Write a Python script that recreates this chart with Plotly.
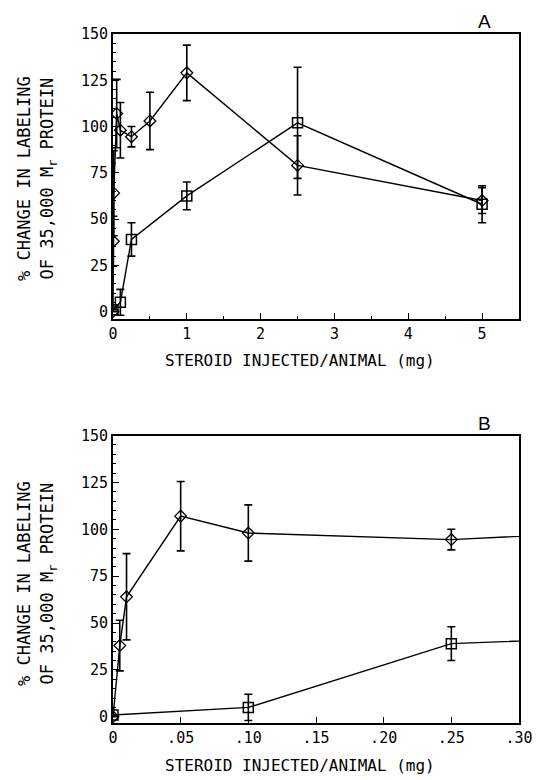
import plotly.graph_objects as go

# Diamond series (open diamonds)
dia_x = [0, 0.005, 0.01, 0.05, 0.1, 0.25, 0.5, 1, 2.5, 5]
dia_y = [0, 38, 64, 107, 98, 94.5, 103, 129, 79, 60]
dia_err = [0, 13.5, 23, 18.5, 15, 5.5, 15.5, 15, 16, 7]

# Square series (open squares)
sq_x = [0, 0.1, 0.25, 1, 2.5, 5]
sq_y = [1, 5, 39, 62.5, 102, 58]
sq_err = [0, 7, 9, 7.5, 30, 10]

y_ticks = [0, 25, 50, 75, 100, 125, 150]
y_ticktext = ["0", "25", "50", "75", "100", "125", "150"]
xa_ticks = [0, 1, 2, 3, 4, 5]
xa_ticktext = ["0", "1", "2", "3", "4", "5"]
xb_ticks = [0, 0.05, 0.10, 0.15, 0.20, 0.25, 0.30]
xb_ticktext = ["0", ".05", ".10", ".15", ".20", ".25", ".30"]

x_title = "STEROID INJECTED/ANIMAL (mg)"
y_title1 = "% CHANGE IN LABELING"
y_title2 = "OF 35,000 M<sub>r</sub> PROTEIN"

FONT = "DejaVu Sans Mono, Liberation Mono, monospace"
W, H = 545, 780
ML, MR, MT, MB = 113, 17, 34, 57
PH = H - MT - MB


def ydom(top_px, bot_px):
    return [(H - MB - bot_px) / PH, (H - MB - top_px) / PH]


fig = go.Figure()

for xa, ya in (("x", "y"), ("x2", "y2")):
    fig.add_trace(go.Scatter(
        x=dia_x, y=dia_y, xaxis=xa, yaxis=ya, mode="lines+markers",
        line=dict(color="black", width=1.4),
        marker=dict(symbol="diamond-open", size=9, color="black", line=dict(width=1.3)),
        error_y=dict(type="data", array=dia_err, color="black", thickness=1.6, width=4),
        showlegend=False))
    fig.add_trace(go.Scatter(
        x=sq_x, y=sq_y, xaxis=xa, yaxis=ya, mode="lines+markers",
        line=dict(color="black", width=1.4),
        marker=dict(symbol="square-open", size=10, color="black", line=dict(width=1.5)),
        error_y=dict(type="data", array=sq_err, color="black", thickness=1.6, width=4),
        showlegend=False))

axis_common = dict(showline=True, linecolor="black", linewidth=2, mirror=True,
                   showgrid=False, zeroline=False, ticks="inside", tickcolor="black",
                   tickwidth=1.2, tickfont=dict(family=FONT, size=15, color="black"))

fig.update_layout(
    width=W, height=H, margin=dict(l=ML, r=MR, t=MT, b=MB),
    paper_bgcolor="white", plot_bgcolor="white",
    xaxis=dict(domain=[0, 1], anchor="y", range=[0, 5.5], tickvals=xa_ticks,
               ticktext=xa_ticktext, ticklen=6,
               minor=dict(dtick=0.5, tick0=0, ticks="inside", ticklen=3, tickcolor="black"),
               **axis_common),
    yaxis=dict(domain=ydom(34, 319), anchor="x", range=[-4, 150], tickvals=y_ticks,
               ticktext=y_ticktext, ticklen=6,
               minor=dict(dtick=5, tick0=0, ticks="inside", ticklen=3, tickcolor="black"),
               **axis_common),
    xaxis2=dict(domain=[0, 1], anchor="y2", range=[0, 0.30], tickvals=xb_ticks,
                ticktext=xb_ticktext, ticklen=6, **axis_common),
    yaxis2=dict(domain=ydom(435.5, 723), anchor="x2", range=[-3.3, 150], tickvals=y_ticks,
                ticktext=y_ticktext, ticklen=6,
                minor=dict(dtick=5, tick0=0, ticks="inside", ticklen=3, tickcolor="black"),
                **axis_common),
)


def px_to_paper_x(px):
    return (px - ML) / (W - ML - MR)


def px_to_paper_y(py):
    return (H - MB - py) / PH


annots = []
xtf = dict(family=FONT, size=16, color="black")
ytf = dict(family=FONT, size=17, color="black")
for title_y, ycenter in ((360, 178), (765, 583)):
    annots.append(dict(text=x_title, x=px_to_paper_x(304), y=px_to_paper_y(title_y),
                       xref="paper", yref="paper", showarrow=False, font=xtf,
                       xanchor="center", yanchor="middle"))
    annots.append(dict(text=y_title1, x=px_to_paper_x(22), y=px_to_paper_y(ycenter),
                       xref="paper", yref="paper", showarrow=False, font=ytf, textangle=-90,
                       xanchor="center", yanchor="middle"))
    annots.append(dict(text=y_title2, x=px_to_paper_x(47), y=px_to_paper_y(ycenter),
                       xref="paper", yref="paper", showarrow=False, font=ytf, textangle=-90,
                       xanchor="center", yanchor="middle"))
lab_font = dict(family="Liberation Sans, Arial, sans-serif", size=19, color="black")
annots.append(dict(text="A", x=px_to_paper_x(493), y=px_to_paper_y(21), xref="paper", yref="paper",
                   showarrow=False, font=lab_font, xanchor="center", yanchor="middle"))
annots.append(dict(text="B", x=px_to_paper_x(493), y=px_to_paper_y(423), xref="paper", yref="paper",
                   showarrow=False, font=lab_font, xanchor="center", yanchor="middle"))
fig.update_layout(annotations=annots)

fig.write_html("out.html")
